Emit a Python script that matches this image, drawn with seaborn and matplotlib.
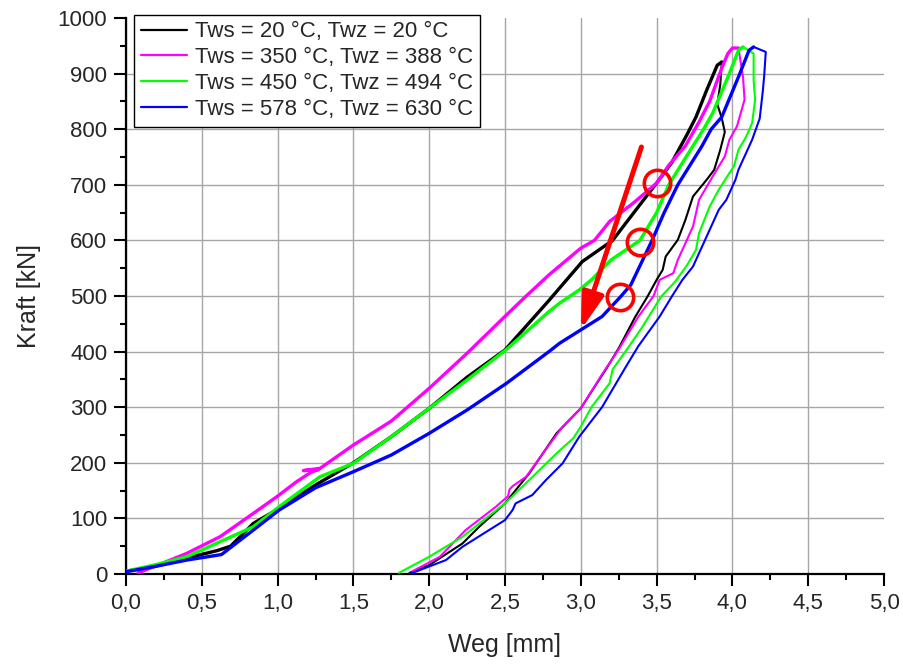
import matplotlib
matplotlib.use("Agg")
import matplotlib.pyplot as plt
import seaborn as sns
import pandas as pd
from matplotlib.lines import Line2D

# ---------------- data ----------------
series_labels = ["Tws = 20 °C, Twz = 20 °C", "Tws = 350 °C, Twz = 388 °C",
                 "Tws = 450 °C, Twz = 494 °C", "Tws = 578 °C, Twz = 630 °C"]
series_colors = ["#000000", "#FF00FF", "#00FF00", "#0000FF"]

black_load_x = [0.0, 0.18, 0.42, 0.60, 0.69, 0.84, 1.01, 1.25, 1.50, 1.75, 2.00, 2.25, 2.50, 2.79, 3.01, 3.21, 3.35, 3.50, 3.60, 3.70, 3.76, 3.83, 3.90, 3.93]
black_load_y = [5, 13, 30, 42, 50, 91, 118, 160, 200, 247, 298, 354, 403, 492, 562, 600, 650, 703, 740, 790, 822, 870, 915, 921]
black_unload_x = [3.93, 3.92, 3.90, 3.93, 3.95, 3.92, 3.88, 3.83, 3.74, 3.69, 3.64, 3.56, 3.54, 3.50, 3.44, 3.36, 3.25, 3.17, 3.12, 3.00, 2.84, 2.66, 2.50, 2.33, 2.22, 2.00, 1.87]
black_unload_y = [921, 880, 845, 820, 795, 763, 727, 709, 679, 637, 601, 571, 547, 529, 499, 463, 406, 370, 349, 298, 253, 181, 127, 85, 55, 16, 2]

magenta_load_x = [0.08, 0.20, 0.40, 0.62, 0.84, 1.00, 1.12, 1.22, 1.27, 1.17, 1.28, 1.50, 1.75, 2.00, 2.25, 2.51, 2.64, 2.79, 3.00, 3.09, 3.19, 3.35, 3.50, 3.58, 3.69, 3.78, 3.85, 3.93, 3.97, 4.00, 4.04]
magenta_load_y = [2, 15, 37, 67, 109, 140, 165, 183, 188, 186, 190, 232, 275, 334, 397, 466, 500, 538, 586, 600, 634, 668, 703, 735, 770, 813, 850, 910, 936, 946, 946]
magenta_unload_x = [4.04, 4.07, 4.08, 4.03, 3.98, 3.95, 3.91, 3.87, 3.78, 3.74, 3.69, 3.64, 3.61, 3.52, 3.48, 3.38, 3.25, 3.14, 3.00, 2.88, 2.75, 2.64, 2.55, 2.53, 2.52, 2.44, 2.24, 2.07, 1.89]
magenta_unload_y = [946, 894, 853, 805, 781, 751, 733, 715, 673, 625, 595, 565, 541, 529, 500, 463, 404, 359, 298, 265, 217, 175, 158, 152, 140, 121, 79, 31, 5]

green_load_x = [0.0, 0.20, 0.40, 0.62, 0.84, 1.01, 1.28, 1.50, 1.75, 2.00, 2.25, 2.51, 2.79, 2.86, 2.99, 3.07, 3.20, 3.39, 3.50, 3.58, 3.66, 3.74, 3.81, 3.87, 3.98, 4.04, 4.07]
green_load_y = [5, 17, 31, 58, 85, 121, 175, 199, 247, 298, 349, 404, 472, 487, 511, 529, 565, 600, 650, 700, 735, 770, 800, 829, 900, 942, 948]
green_unload_x = [4.07, 4.14, 4.14, 4.15, 4.13, 4.09, 4.04, 4.01, 3.98, 3.91, 3.85, 3.78, 3.76, 3.70, 3.62, 3.53, 3.41, 3.32, 3.21, 3.19, 3.07, 3.00, 2.95, 2.84, 2.66, 2.50, 2.22, 2.00, 1.80]
green_unload_y = [948, 936, 888, 853, 811, 786, 763, 733, 721, 691, 661, 613, 583, 555, 525, 499, 446, 410, 368, 343, 300, 265, 244, 217, 169, 127, 67, 31, 2]

blue_load_x = [0.0, 0.20, 0.40, 0.63, 0.84, 1.01, 1.25, 1.50, 1.75, 2.00, 2.25, 2.51, 2.79, 2.86, 3.00, 3.14, 3.26, 3.33, 3.40, 3.47, 3.55, 3.64, 3.72, 3.80, 3.86, 3.93, 4.04, 4.11, 4.14]
blue_load_y = [4, 14, 25, 35, 79, 115, 155, 184, 214, 253, 295, 343, 400, 415, 439, 463, 498, 520, 560, 600, 650, 700, 735, 770, 800, 822, 894, 942, 948]
blue_unload_x = [4.14, 4.22, 4.21, 4.20, 4.18, 4.13, 4.09, 4.04, 4.02, 3.96, 3.91, 3.85, 3.78, 3.74, 3.67, 3.60, 3.52, 3.38, 3.30, 3.14, 2.99, 2.88, 2.77, 2.68, 2.57, 2.55, 2.50, 2.22, 2.11, 1.87]
blue_unload_y = [948, 939, 897, 867, 819, 781, 757, 727, 709, 673, 655, 619, 577, 553, 529, 499, 463, 410, 374, 300, 247, 199, 169, 142, 127, 115, 97, 49, 25, 0]

circle_x = [3.50, 3.39, 3.26]
circle_y = [703, 598, 498]
arrow_start = (3.40, 768)
arrow_end = (3.00, 439)

x_ticks = [0.0, 0.5, 1.0, 1.5, 2.0, 2.5, 3.0, 3.5, 4.0, 4.5, 5.0]
x_tick_labels = ["0,0", "0,5", "1,0", "1,5", "2,0", "2,5", "3,0", "3,5", "4,0", "4,5", "5,0"]
y_ticks = [0, 100, 200, 300, 400, 500, 600, 700, 800, 900, 1000]
y_tick_labels = ["0", "100", "200", "300", "400", "500", "600", "700", "800", "900", "1000"]

# ---------------- plot ----------------
sns.set_theme(style="white")
plt.rcParams["font.family"] = ["Liberation Sans", "DejaVu Sans"]

fig = plt.figure(figsize=(9.04, 6.64), dpi=100)
ax = fig.add_axes([126 / 904, 1 - 574 / 664, 758 / 904, 556 / 664])

loads = [(black_load_x, black_load_y), (magenta_load_x, magenta_load_y),
         (green_load_x, green_load_y), (blue_load_x, blue_load_y)]
unloads = [(black_unload_x, black_unload_y), (magenta_unload_x, magenta_unload_y),
           (green_unload_x, green_unload_y), (blue_unload_x, blue_unload_y)]

for (lx, ly), (ux, uy), c in zip(loads, unloads, series_colors):
    sns.lineplot(x=lx, y=ly, sort=False, estimator=None, color=c, lw=2.4, ax=ax, zorder=3)
    sns.lineplot(x=ux, y=uy, sort=False, estimator=None, color=c, lw=1.5, ax=ax, zorder=3)

# red annotations
ax.plot(circle_x, circle_y, linestyle="none", marker="o", markersize=19,
        markerfacecolor="none", markeredgecolor="red", markeredgewidth=2.6, zorder=5)
ax.annotate("", xy=arrow_end, xytext=arrow_start,
            arrowprops=dict(arrowstyle="-|>,head_length=1.0,head_width=0.3", color="red",
                            lw=3.6, mutation_scale=22, shrinkA=0, shrinkB=0), zorder=6)

ax.set_xlim(0, 5)
ax.set_ylim(0, 1000)
ax.set_xticks(x_ticks)
ax.set_xticklabels(x_tick_labels)
ax.set_yticks(y_ticks)
ax.set_yticklabels(y_tick_labels)
ax.set_xticks([0.25 + 0.5 * i for i in range(10)], minor=True)
ax.set_yticks([50 + 100 * i for i in range(10)], minor=True)

ax.grid(True, which="major", color="#A6A6A6", lw=1.0, zorder=0)
for gl in ax.xaxis.get_gridlines()[-1:]:
    gl.set_visible(False)
for gl in ax.yaxis.get_gridlines()[-1:]:
    gl.set_visible(False)
ax.set_axisbelow(True)

for s in ["top", "right"]:
    ax.spines[s].set_visible(False)
for s in ["left", "bottom"]:
    ax.spines[s].set_color("black")
    ax.spines[s].set_linewidth(1.6)

ax.tick_params(which="major", direction="out", length=8.5, width=1.5, color="black",
               labelsize=16, pad=5, left=True, bottom=True)
ax.tick_params(which="minor", direction="out", length=4.5, width=1.5, color="black",
               left=True, bottom=True)

ax.set_xlabel("Weg [mm]", fontsize=18, labelpad=14)
ax.set_ylabel("Kraft [kN]", fontsize=18, labelpad=12)

handles = [Line2D([0], [0], color=c, lw=1.6) for c in series_colors]
leg = ax.legend(handles, series_labels, loc="upper left", bbox_to_anchor=(0.0106, 1.006),
                borderaxespad=0, fontsize=16, frameon=True, fancybox=False,
                edgecolor="black", framealpha=1, handlelength=2.1, handletextpad=0.35,
                labelspacing=0.22, borderpad=0.3)
leg.get_frame().set_linewidth(1.0)
leg.set_zorder(10)

fig.savefig("out.png", dpi=100)
